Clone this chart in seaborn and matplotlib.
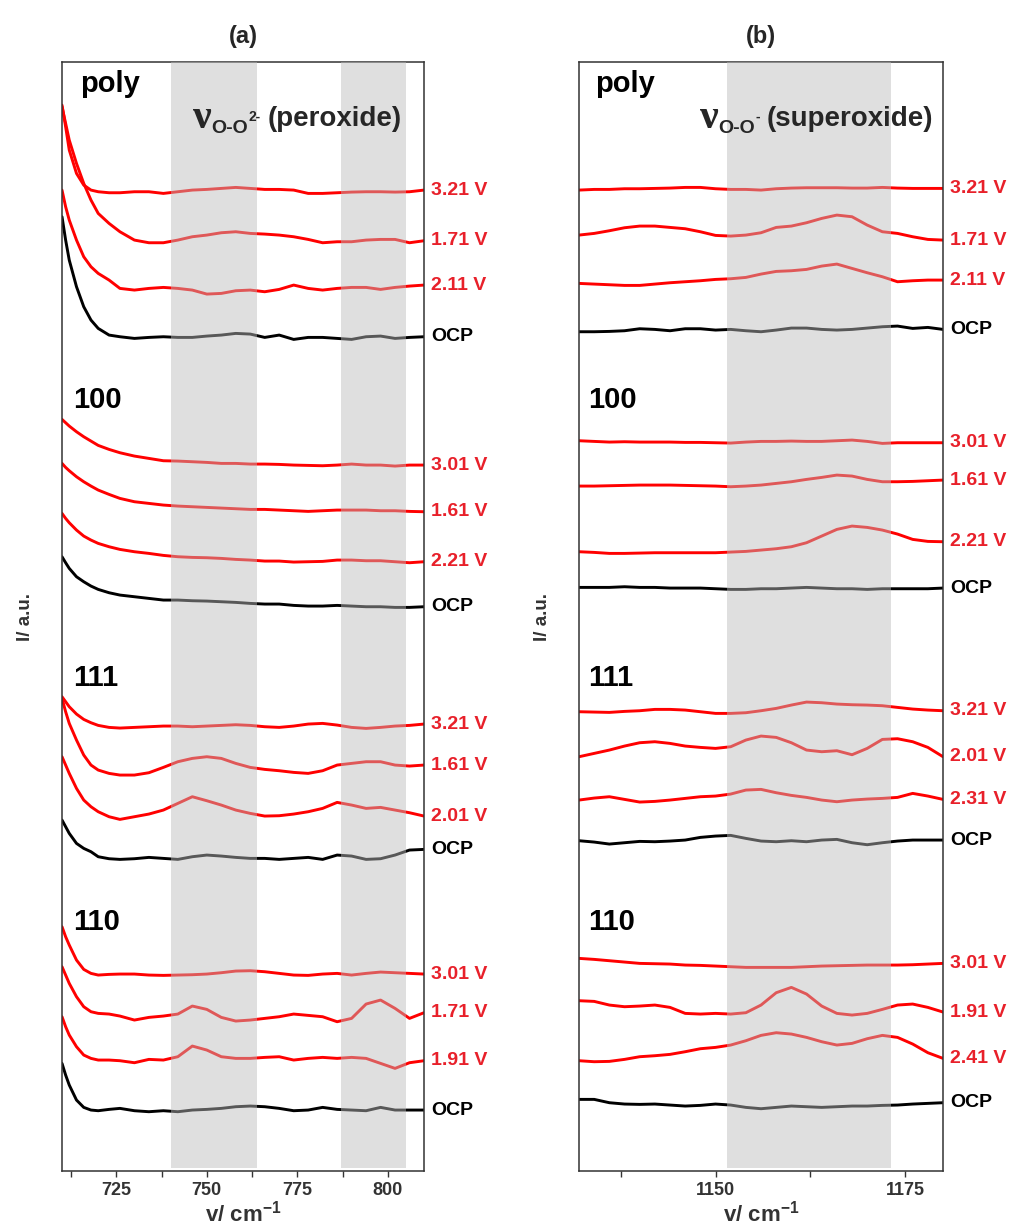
import matplotlib
matplotlib.use('Agg')
import matplotlib.pyplot as plt
import pandas as pd
import seaborn as sns

# ---------------------------------------------------------------
# Raman spectra, stacked with offset (arbitrary intensity units)
# ---------------------------------------------------------------
wn_a = [710, 711, 712, 714, 716, 718, 720, 723, 726, 730, 734, 738, 742, 746, 750,
        754, 758, 762, 766, 770, 774, 778, 782, 786, 790, 794, 798, 802, 806, 810]
wn_b = [1132, 1134, 1136, 1138, 1140, 1142, 1144, 1146, 1148, 1150, 1152, 1154, 1156,
        1158, 1160, 1162, 1164, 1166, 1168, 1170, 1172, 1174, 1176, 1178, 1180]

# panel (a): peroxide region
a_poly_321 = [3198, 3133, 3063, 2993, 2958, 2943, 2938, 2935, 2935, 2938, 2938, 2933, 2938, 2943, 2945,
              2948, 2951, 2948, 2945, 2945, 2943, 2933, 2933, 2935, 2937, 2938, 2938, 2937, 2938, 2943]
a_poly_171 = [3193, 3143, 3093, 3023, 2963, 2913, 2873, 2843, 2818, 2793, 2785, 2785, 2793, 2803, 2808,
              2815, 2818, 2813, 2811, 2808, 2803, 2795, 2785, 2788, 2788, 2793, 2795, 2795, 2785, 2791]
a_poly_211 = [2943, 2893, 2853, 2793, 2743, 2713, 2693, 2673, 2648, 2643, 2648, 2651, 2648, 2643, 2631,
              2633, 2641, 2643, 2638, 2645, 2658, 2648, 2643, 2648, 2651, 2651, 2645, 2651, 2655, 2658]
a_poly_ocp = [2863, 2793, 2733, 2653, 2593, 2553, 2528, 2508, 2503, 2498, 2501, 2503, 2501, 2501, 2505,
              2508, 2513, 2511, 2501, 2508, 2495, 2501, 2501, 2498, 2495, 2503, 2505, 2498, 2501, 2503]

a_100_301 = [2255, 2245, 2235, 2218, 2203, 2190, 2177, 2165, 2155, 2145, 2138, 2131, 2130, 2128, 2126,
             2123, 2123, 2121, 2121, 2120, 2118, 2117, 2116, 2118, 2121, 2118, 2118, 2115, 2118, 2118]
a_100_161 = [2123, 2111, 2101, 2083, 2068, 2055, 2043, 2030, 2018, 2008, 2003, 1998, 1995, 1993, 1991,
             1989, 1987, 1985, 1985, 1983, 1981, 1979, 1981, 1983, 1983, 1983, 1981, 1981, 1979, 1978]
a_100_221 = [1973, 1958, 1945, 1923, 1905, 1893, 1883, 1873, 1865, 1858, 1853, 1847, 1843, 1841, 1840,
             1838, 1835, 1833, 1830, 1830, 1827, 1828, 1829, 1833, 1833, 1831, 1831, 1828, 1825, 1828]
a_100_ocp = [1843, 1825, 1808, 1783, 1768, 1755, 1745, 1735, 1728, 1723, 1718, 1713, 1713, 1711, 1710,
             1708, 1706, 1703, 1701, 1701, 1697, 1695, 1695, 1697, 1695, 1693, 1693, 1691, 1691, 1693]

a_111_321 = [1423, 1408, 1393, 1371, 1355, 1345, 1337, 1331, 1329, 1331, 1333, 1335, 1335, 1333, 1335,
             1337, 1339, 1337, 1333, 1331, 1335, 1341, 1343, 1338, 1331, 1328, 1331, 1335, 1337, 1341]
a_111_161 = [1418, 1378, 1343, 1293, 1248, 1218, 1203, 1193, 1188, 1188, 1195, 1211, 1228, 1238, 1243,
             1238, 1223, 1211, 1205, 1201, 1196, 1193, 1201, 1218, 1223, 1228, 1228, 1218, 1215, 1218]
a_111_201 = [1243, 1218, 1193, 1148, 1113, 1093, 1078, 1063, 1055, 1063, 1071, 1083, 1103, 1123, 1111,
             1098, 1083, 1073, 1065, 1066, 1071, 1078, 1088, 1106, 1098, 1088, 1091, 1083, 1075, 1065]
a_111_ocp = [1053, 1033, 1013, 983, 968, 958, 943, 937, 935, 937, 941, 938, 935, 943, 948,
             945, 941, 938, 938, 935, 938, 941, 935, 948, 945, 935, 937, 948, 963, 965]

a_110_301 = [733, 703, 678, 633, 605, 593, 588, 590, 591, 591, 588, 587, 588, 589, 591,
             595, 600, 601, 598, 593, 588, 587, 591, 593, 588, 593, 597, 595, 593, 591]
a_110_171 = [613, 588, 563, 523, 493, 478, 473, 471, 465, 453, 461, 465, 471, 495, 485,
             461, 450, 453, 458, 463, 471, 467, 463, 448, 458, 501, 513, 488, 458, 475]
a_110_191 = [463, 433, 408, 373, 348, 338, 333, 333, 331, 325, 335, 333, 343, 375, 363,
             343, 338, 338, 341, 343, 333, 338, 341, 338, 341, 338, 323, 308, 325, 331]
a_110_ocp = [323, 288, 258, 213, 191, 183, 181, 185, 188, 181, 178, 181, 178, 183, 185,
             188, 193, 195, 193, 188, 181, 183, 191, 185, 183, 181, 191, 183, 183, 183]

# panel (b): superoxide region
b_poly_321 = [2943, 2945, 2945, 2947, 2947, 2948, 2949, 2951, 2951, 2947, 2945, 2945, 2943,
              2947, 2949, 2950, 2950, 2950, 2949, 2949, 2951, 2949, 2948, 2948, 2948]
b_poly_171 = [2808, 2813, 2821, 2830, 2835, 2835, 2831, 2827, 2818, 2807, 2805, 2808, 2815,
              2831, 2835, 2845, 2858, 2868, 2863, 2838, 2818, 2813, 2803, 2795, 2793]
b_poly_211 = [2663, 2661, 2659, 2657, 2657, 2661, 2665, 2668, 2671, 2675, 2677, 2681, 2691,
              2699, 2701, 2705, 2715, 2721, 2708, 2695, 2683, 2668, 2671, 2673, 2673]
b_poly_ocp = [2518, 2518, 2519, 2521, 2527, 2525, 2521, 2527, 2527, 2523, 2525, 2521, 2518,
              2523, 2529, 2529, 2525, 2523, 2525, 2529, 2533, 2535, 2528, 2531, 2525]

b_100_301 = [2191, 2189, 2187, 2188, 2187, 2187, 2187, 2186, 2186, 2185, 2184, 2187, 2189,
             2189, 2190, 2189, 2189, 2191, 2193, 2189, 2183, 2185, 2185, 2185, 2185]
b_100_161 = [2055, 2055, 2056, 2057, 2058, 2058, 2058, 2057, 2056, 2055, 2053, 2055, 2058,
             2063, 2068, 2075, 2081, 2088, 2085, 2075, 2068, 2068, 2069, 2071, 2073]
b_100_221 = [1858, 1856, 1853, 1853, 1854, 1855, 1855, 1855, 1855, 1855, 1857, 1859, 1863,
             1867, 1873, 1885, 1905, 1925, 1935, 1931, 1923, 1911, 1895, 1889, 1888]
b_100_ocp = [1751, 1751, 1751, 1753, 1751, 1751, 1749, 1749, 1749, 1747, 1745, 1745, 1747,
             1747, 1749, 1751, 1749, 1747, 1747, 1745, 1747, 1747, 1747, 1747, 1749]

b_111_321 = [1378, 1377, 1376, 1379, 1381, 1385, 1385, 1383, 1378, 1373, 1373, 1375, 1381,
             1388, 1398, 1407, 1405, 1401, 1399, 1398, 1396, 1391, 1386, 1383, 1381]
b_111_201 = [1243, 1253, 1263, 1275, 1285, 1288, 1283, 1275, 1271, 1268, 1273, 1293, 1305,
             1301, 1285, 1263, 1258, 1261, 1249, 1268, 1295, 1297, 1288, 1271, 1243]
b_111_231 = [1113, 1119, 1123, 1115, 1107, 1109, 1113, 1118, 1123, 1125, 1131, 1143, 1145,
             1135, 1127, 1121, 1113, 1108, 1113, 1116, 1118, 1121, 1133, 1125, 1115]
b_111_ocp = [991, 987, 981, 985, 989, 988, 990, 993, 1001, 1005, 1007, 998, 990,
             988, 991, 988, 993, 995, 985, 979, 985, 990, 993, 993, 993]

b_110_301 = [638, 635, 631, 627, 623, 622, 621, 618, 617, 615, 613, 611, 611,
             611, 611, 613, 615, 616, 617, 618, 618, 618, 619, 621, 623]
b_110_191 = [511, 509, 498, 493, 495, 498, 491, 473, 471, 473, 471, 475, 498,
             535, 551, 531, 495, 473, 468, 473, 485, 498, 501, 491, 477]
b_110_241 = [331, 328, 329, 335, 343, 346, 350, 358, 367, 371, 378, 391, 407,
             415, 411, 401, 388, 378, 383, 397, 407, 401, 381, 355, 338]
b_110_ocp = [215, 215, 205, 201, 200, 201, 198, 195, 197, 201, 198, 191, 187,
             191, 195, 193, 191, 193, 195, 195, 197, 198, 201, 203, 205]

traces_a = [('3.21 V', a_poly_321), ('1.71 V', a_poly_171), ('2.11 V', a_poly_211), ('OCP', a_poly_ocp),
            ('3.01 V', a_100_301), ('1.61 V', a_100_161), ('2.21 V', a_100_221), ('OCP', a_100_ocp),
            ('3.21 V', a_111_321), ('1.61 V', a_111_161), ('2.01 V', a_111_201), ('OCP', a_111_ocp),
            ('3.01 V', a_110_301), ('1.71 V', a_110_171), ('1.91 V', a_110_191), ('OCP', a_110_ocp)]
traces_b = [('3.21 V', b_poly_321), ('1.71 V', b_poly_171), ('2.11 V', b_poly_211), ('OCP', b_poly_ocp),
            ('3.01 V', b_100_301), ('1.61 V', b_100_161), ('2.21 V', b_100_221), ('OCP', b_100_ocp),
            ('3.21 V', b_111_321), ('2.01 V', b_111_201), ('2.31 V', b_111_231), ('OCP', b_111_ocp),
            ('3.01 V', b_110_301), ('1.91 V', b_110_191), ('2.41 V', b_110_241), ('OCP', b_110_ocp)]

facets = ['poly', '100', '111', '110']
bands_a = [(740, 764), (787, 805)]
bands_b = [(1151.5, 1173.2)]

RED = '#ff0000'
LABEL_RED = '#e8202a'
DARK = '#333333'

sns.set_theme(style='ticks')
plt.rcParams['font.family'] = ['Liberation Sans', 'DejaVu Sans']
plt.rcParams['font.weight'] = 'bold'
plt.rcParams['mathtext.fontset'] = 'custom'
plt.rcParams['mathtext.bf'] = 'Liberation Sans:bold'
plt.rcParams['mathtext.rm'] = 'Liberation Sans:bold'


def draw_panel(ax, wn, traces, xlim, bands, majors, minors, facet_x):
    rows = []
    for i, (label, vals) in enumerate(traces):
        kind = 'OCP' if label == 'OCP' else 'V'
        for x, y in zip(wn, vals):
            rows.append({'wn': x, 'I': y, 'trace': i, 'kind': kind})
    df = pd.DataFrame(rows)
    sns.lineplot(data=df, x='wn', y='I', hue='kind', units='trace', estimator=None,
                 sort=False, palette={'V': RED, 'OCP': 'black'}, linewidth=2.1,
                 legend=False, ax=ax, zorder=2)

    # grey bands drawn over the spectra (semi-transparent)
    for lo, hi in bands:
        ax.axvspan(lo, hi, ymin=0.003, ymax=1, color='#bdbdbd', alpha=0.47, lw=0, zorder=3)

    ax.set_xlim(*xlim)
    ax.set_ylim(0, 3327)
    ax.set_yticks([])
    ax.set_xticks(majors)
    ax.set_xticks(minors, minor=True)
    ax.tick_params(axis='x', which='both', direction='out', length=4, width=1,
                   color=DARK, labelsize=13, labelcolor=DARK, pad=4)
    for t in ax.get_xticklabels():
        t.set_fontweight('bold')
    for s in ax.spines.values():
        s.set_color(DARK)
        s.set_linewidth(1.1)
    ax.set_xlabel(r'v/ cm$^{\mathbf{-1}}$', fontsize=16, fontweight='bold', color=DARK, labelpad=1)
    ax.set_ylabel('I/ a.u.', fontsize=13.5, fontweight='bold', color=DARK, labelpad=20)

    for label, vals in traces:
        ax.annotate(label, xy=(wn[-1], vals[-1]), xytext=(5, 0), textcoords='offset points',
                    ha='left', va='center', fontsize=14, fontweight='bold',
                    color='black' if label == 'OCP' else LABEL_RED,
                    annotation_clip=False)

    for name, fy in zip(facets, [0.980, 0.695, 0.445, 0.225]):
        ax.text(facet_x if name == 'poly' else facet_x - 0.018, fy, name, transform=ax.transAxes,
                fontsize=21, fontweight='bold', color='black', va='center', ha='left', zorder=5)


def add_nu(ax, x, y, charge, name):
    nu = ax.text(x, y, 'ν', transform=ax.transAxes, fontsize=30, family='Liberation Serif',
                 fontweight='bold', va='baseline', ha='left', zorder=5)
    sub = ax.annotate('O-O', xy=(1, 0.22), xycoords=nu, xytext=(0, 0), textcoords='offset points',
                      ha='left', va='center', fontsize=14, fontweight='bold', zorder=5)
    sup = ax.annotate(charge, xy=(1, 1), xycoords=sub, xytext=(0, 2), textcoords='offset points',
                      ha='left', va='center', fontsize=10, fontweight='bold', zorder=5)
    ax.annotate(name, xy=(1, 0.45), xycoords=(sup, nu), xytext=(5, 0), textcoords='offset points',
                ha='left', va='center', fontsize=20, fontweight='bold', zorder=5)


fig = plt.figure(figsize=(10.1, 12.27), dpi=100)
ax_a = fig.add_axes([0.0614, 0.0456, 0.3584, 0.9038])
ax_b = fig.add_axes([0.5733, 0.0456, 0.3604, 0.9038])

draw_panel(ax_a, wn_a, traces_a, (710, 810), bands_a,
           [725, 750, 775, 800], [712.5, 737.5, 762.5, 787.5], 0.05)
draw_panel(ax_b, wn_b, traces_b, (1132, 1180), bands_b,
           [1150, 1175], [1137.5, 1162.5], 0.044)

add_nu(ax_a, 0.362, 0.941, '2-', '(peroxide)')
add_nu(ax_b, 0.332, 0.941, '-', '(superoxide)')

ax_a.set_title('(a)', fontsize=17, fontweight='bold', pad=14)
ax_b.set_title('(b)', fontsize=17, fontweight='bold', pad=14)

fig.savefig('out.png', dpi=100, facecolor='white')
